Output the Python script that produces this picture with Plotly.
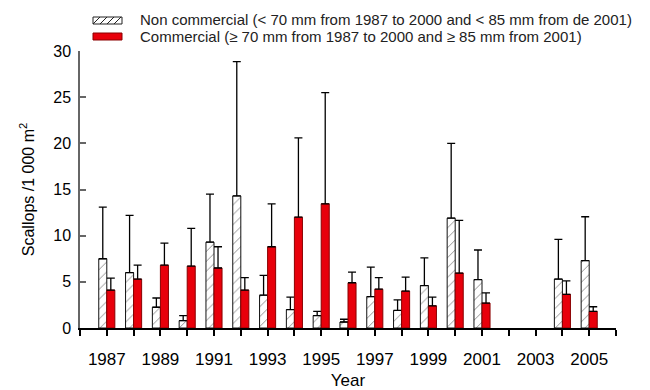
import plotly.graph_objects as go

years = list(range(1987, 2006))
noncom = [7.5, 6.0, 2.25, 0.8, 9.3, 14.3, 3.55, 2.0, 1.35, 0.65, 3.4, 1.9, 4.6, 11.9, 5.25, None, None, 5.3, 7.3]
noncom_up = [13.1, 12.2, 3.25, 1.35, 14.5, 28.85, 5.7, 3.35, 1.8, 0.95, 6.6, 3.05, 7.6, 20.0, 8.45, None, None, 9.6, 12.05]
com = [4.1, 5.3, 6.8, 6.7, 6.5, 4.1, 8.8, 12.0, 13.45, 4.9, 4.2, 4.0, 2.4, 5.95, 2.7, None, None, 3.65, 1.8]
com_up = [5.4, 6.8, 9.2, 10.8, 8.8, 5.45, 13.45, 20.6, 25.5, 6.05, 5.45, 5.5, 3.35, 11.65, 3.8, None, None, 5.1, 2.3]

names = ["Non commercial (< 70 mm from 1987 to 2000 and < 85 mm from de 2001)",
         "Commercial (\u2265 70 mm from 1987 to 2000 and \u2265 85 mm from 2001)"]

def plus(vals, ups):
    return [(u - v) if (u is not None and v is not None) else None for v, u in zip(vals, ups)]

FONT = "Liberation Sans, Arial, sans-serif"
W, H = 650, 390
ML, MR, MT, MB = 80, 34, 51, 62
PW, PH = W - ML - MR, H - MT - MB

def px(x):
    return (x - ML) / PW

def py(y):
    return (H - MB - y) / PH

RED = "#e8000b"

fig = go.Figure()
fig.add_trace(go.Bar(
    x=years, y=noncom, name=names[0], showlegend=False,
    marker=dict(color="white", line=dict(color="#111", width=1),
                pattern=dict(shape="/", fgcolor="#222", bgcolor="white", size=7, solidity=0.14)),
    error_y=dict(type="data", symmetric=False, array=plus(noncom, noncom_up),
                 arrayminus=[0]*len(years), color="black", thickness=1.3, width=4),
))
fig.add_trace(go.Bar(
    x=years, y=com, name=names[1], showlegend=False,
    marker=dict(color=RED, line=dict(color="#8a0000", width=1)),
    error_y=dict(type="data", symmetric=False, array=plus(com, com_up),
                 arrayminus=[0]*len(years), color="black", thickness=1.3, width=4),
))

# manual legend (swatches + text)
shapes = []
sx0, sx1 = 93, 122
shapes.append(dict(type="rect", xref="paper", yref="paper", x0=px(sx0), x1=px(sx1),
                   y0=py(24), y1=py(17), fillcolor="white", line=dict(color="#222", width=1)))
for k in range(4):
    shapes.append(dict(type="line", xref="paper", yref="paper",
                       x0=px(sx0 + 7*k), y0=py(24), x1=px(sx0 + 7*k + 7), y1=py(17),
                       line=dict(color="#222", width=1)))
shapes.append(dict(type="rect", xref="paper", yref="paper", x0=px(sx0), x1=px(sx1),
                   y0=py(40), y1=py(33), fillcolor=RED, line=dict(color="#8a0000", width=1)))

annotations = []
for name, yc in zip(names, [20, 36.5]):
    annotations.append(dict(text=name, xref="paper", yref="paper", x=px(139), y=py(yc),
                            xanchor="left", yanchor="middle", showarrow=False, borderpad=0,
                            font=dict(size=15, color="#222", family=FONT)))

fig.update_layout(
    width=W, height=H,
    margin=dict(l=ML, r=MR, t=MT, b=MB, autoexpand=False),
    paper_bgcolor="white", plot_bgcolor="white",
    barmode="group", bargap=0.4, bargroupgap=0,
    font=dict(family=FONT, size=16, color="black"),
    shapes=shapes, annotations=annotations,
    xaxis=dict(range=[1986, 2006], tickmode="linear", tick0=1987, dtick=2,
               tickfont=dict(size=17), ticklabelstandoff=9,
               showline=True, linecolor="black", linewidth=2,
               ticks="outside", ticklen=6, tickwidth=1.8, tickcolor="black",
               minor=dict(tick0=1987, dtick=1, ticks="outside", ticklen=6,
                          tickwidth=1.8, tickcolor="black", showgrid=False),
               showgrid=False, zeroline=False,
               title=dict(text="Year", font=dict(size=17), standoff=6)),
    yaxis=dict(range=[0, 30], tickvals=[0, 5, 10, 15, 20, 25, 30],
               tickfont=dict(size=16), ticklabelstandoff=4,
               showline=True, linecolor="#666", linewidth=1.5,
               ticks="inside", ticklen=6, tickwidth=1.5, tickcolor="#666",
               showgrid=False, zeroline=False,
               title=dict(text="Scallops /1 000 m<sup>2</sup>", font=dict(size=16))),
)

fig.write_html("out.html")
